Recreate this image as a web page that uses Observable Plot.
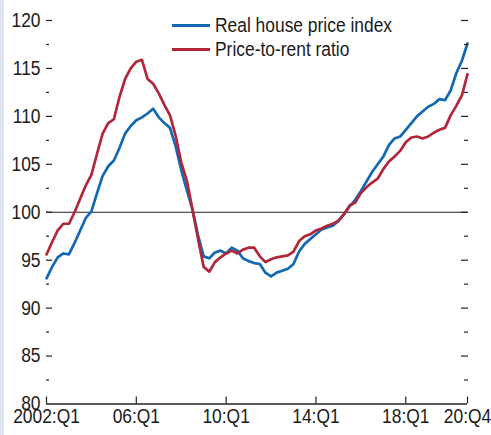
<!DOCTYPE html>
<html>
<head>
<meta charset="utf-8">
<script src="https://cdn.jsdelivr.net/npm/d3@7"></script>
<script src="https://cdn.jsdelivr.net/npm/@observablehq/plot@0.6"></script>
<style>
  html, body { margin: 0; padding: 0; background: #fff; }
  #wrap { position: relative; width: 491px; height: 435px;
    background: linear-gradient(to right, #dfe6f2 0, #dfe6f2 4px, #fff 4px); }
  #wrap svg { position: absolute; left: 0; top: 0; overflow: visible; }
  #legend { position: absolute; left: 172px; top: 13px; font-size: 20px; color: #1a1a1a;
    font-family: "Liberation Sans", Arial, sans-serif; }
  #legend .item { display: flex; align-items: center; height: 24px; white-space: nowrap; }
  #legend .sw { width: 38px; height: 3px; margin-right: 5px; flex: none; }
  #legend .tx { display: inline-block; transform: scaleX(0.87); transform-origin: 0 50%; }
</style>
</head>
<body>
<div id="wrap"></div>
<script>
// Quarterly, 2002:Q1 .. 2020:Q4 (index 0..75)
const seriesNames = ["Real house price index", "Price-to-rent ratio"];
const seriesColors = ["#1268b3", "#b2263a"];

const housePrice = [
  93.1, 94.3, 95.3, 95.7, 95.6, 96.8, 98.1, 99.4, 100.1, 102.0,
  103.8, 104.8, 105.4, 106.7, 108.2, 109.0, 109.6, 109.9, 110.3, 110.8,
  109.9, 109.3, 108.8, 106.9, 104.4, 102.3, 100.3, 97.6, 95.4, 95.2,
  95.8, 96.0, 95.7, 96.3, 96.0, 95.2, 94.9, 94.7, 94.6, 93.7,
  93.3, 93.7, 93.9, 94.1, 94.6, 95.9, 96.7, 97.2, 97.7, 98.2,
  98.4, 98.6, 99.1, 99.8, 100.6, 101.3, 102.2, 103.2, 104.2, 105.0,
  105.8, 107.0, 107.7, 107.9, 108.6, 109.3, 110.0, 110.5, 111.0, 111.3,
  111.8, 111.7, 112.7, 114.5, 115.8, 117.6
];
const priceToRent = [
  95.6, 96.9, 98.1, 98.8, 98.8, 100.0, 101.4, 102.8, 103.9, 106.1,
  108.2, 109.3, 109.7, 112.0, 113.9, 115.0, 115.7, 115.9, 113.9, 113.4,
  112.4, 111.2, 110.1, 108.0, 105.2, 103.3, 100.3, 97.2, 94.3, 93.8,
  94.8, 95.3, 95.7, 96.0, 95.7, 96.1, 96.3, 96.3, 95.4, 94.8,
  95.1, 95.3, 95.4, 95.5, 95.9, 97.0, 97.5, 97.7, 98.1, 98.3,
  98.6, 98.8, 99.1, 99.8, 100.7, 101.0, 102.0, 102.6, 103.1, 103.5,
  104.5, 105.3, 105.8, 106.4, 107.3, 107.8, 107.9, 107.7, 107.9, 108.3,
  108.6, 108.8, 110.1, 111.1, 112.2, 114.4
];

const xTickValues = [0, 16, 32, 48, 64, 75];
const xTickLabels = ["2002:Q1", "06:Q1", "10:Q1", "14:Q1", "18:Q1", "20:Q4"];
const yMajor = [80, 85, 90, 95, 100, 105, 110, 115, 120];
const yMinor = [82.5, 87.5, 92.5, 97.5, 102.5, 107.5, 112.5, 117.5];
const refLine = [100];

const rows = [];
housePrice.forEach((v, i) => rows.push({q: i, v, s: seriesNames[0]}));
priceToRent.forEach((v, i) => rows.push({q: i, v, s: seriesNames[1]}));

const FONT = '"Liberation Sans", Arial, sans-serif';
const NARROW = 0.87;

const chart = Plot.plot({
  width: 491,
  height: 435,
  marginLeft: 46,
  marginRight: 24,
  marginTop: 20,
  marginBottom: 31.5,
  style: {fontFamily: FONT, fontSize: "20px", color: "#1a1a1a", background: "transparent", overflow: "visible"},
  x: {domain: [0, 75], axis: null},
  y: {domain: [80, 120], axis: null},
  color: {domain: seriesNames, range: seriesColors},
  marks: [
    Plot.ruleY(refLine, {stroke: "#222", strokeWidth: 1}),
    Plot.line(rows, {x: "q", y: "v", z: "s", stroke: "s", strokeWidth: 2.7, strokeLinejoin: "round"}),
    // bottom axis line
    Plot.ruleY([80], {stroke: "#222", strokeWidth: 1.3}),
    // left axis labels
    Plot.axisY(yMajor, {anchor: "left", tickSize: 0, tickPadding: 6, fontSize: 20, label: null, fill: "#1a1a1a"}),
    // left major ticks (inward)
    Plot.axisY(yMajor.filter(d => d > 80), {anchor: "left", tickSize: 6, dx: 6, fill: "none", label: null, stroke: "#222", strokeWidth: 1.2}),
    // left minor ticks
    Plot.axisY(yMinor, {anchor: "left", tickSize: 3, dx: 3, fill: "none", label: null, stroke: "#222", strokeWidth: 1.2}),
    // right ticks (inward)
    Plot.axisY(yMajor.filter(d => d > 80), {anchor: "right", tickSize: 7, dx: -7, fill: "none", label: null, stroke: "#222", strokeWidth: 1.2}),
    Plot.axisY(yMinor, {anchor: "right", tickSize: 4, dx: -4, fill: "none", label: null, stroke: "#222", strokeWidth: 1.2}),
    // bottom ticks (upward)
    Plot.axisX(xTickValues, {anchor: "bottom", tickSize: 7, dy: -7, fill: "none", label: null, stroke: "#222", strokeWidth: 1.2}),
    // bottom labels
    Plot.axisX(xTickValues, {anchor: "bottom", tickSize: 0, tickPadding: 5, fontSize: 20, label: null, fill: "#1a1a1a",
      tickFormat: d => xTickLabels[xTickValues.indexOf(d)]})
  ]
});

// condense the glyphs horizontally (the reference uses a condensed face)
chart.querySelectorAll("text").forEach(t => {
  const tr = t.getAttribute("transform");
  if (tr) {
    t.setAttribute("transform", tr + ` scale(${NARROW},1)`);
  } else {
    const x = +(t.getAttribute("x") || 0), y = +(t.getAttribute("y") || 0);
    t.removeAttribute("x"); t.removeAttribute("y");
    t.setAttribute("transform", `translate(${x},${y}) scale(${NARROW},1)`);
  }
});

const wrap = document.getElementById("wrap");
wrap.appendChild(chart);

const legend = document.createElement("div");
legend.id = "legend";
seriesNames.forEach((name, k) => {
  const item = document.createElement("div");
  item.className = "item";
  const sw = document.createElement("span");
  sw.className = "sw";
  sw.style.background = seriesColors[k];
  const tx = document.createElement("span");
  tx.className = "tx";
  tx.textContent = name;
  item.appendChild(sw);
  item.appendChild(tx);
  legend.appendChild(item);
});
wrap.appendChild(legend);
</script>
</body>
</html>
